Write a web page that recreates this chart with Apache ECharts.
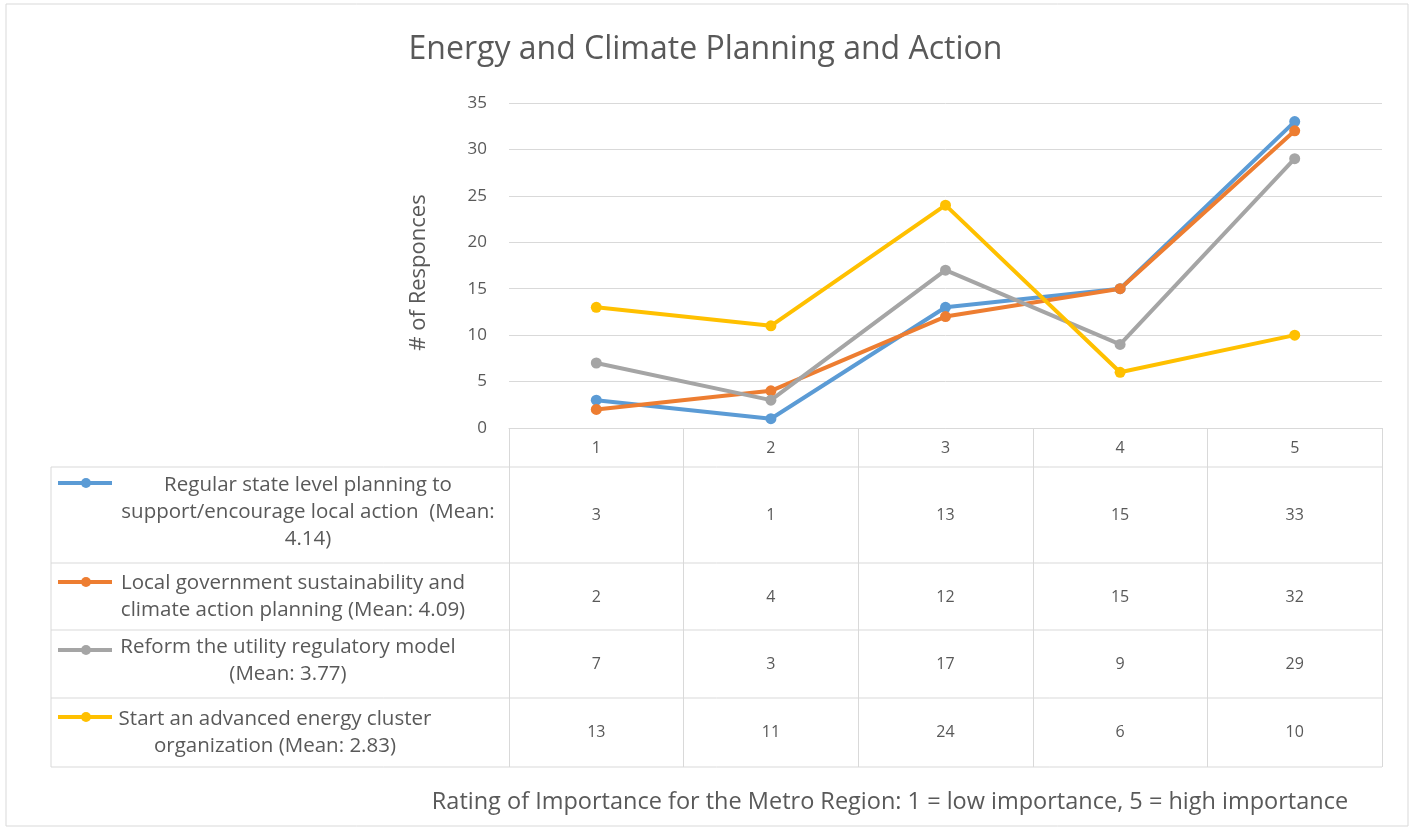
<!DOCTYPE html>
<html>
<head>
<meta charset="utf-8">
<script src="https://cdn.jsdelivr.net/npm/echarts@6/dist/echarts.min.js"></script>
<style>
html, body { margin: 0; padding: 0; background: #fff; }
#main { width: 1411px; height: 829px; }
</style>
</head>
<body>
<div id="main"></div>
<script>
// data
var ratings = ['1', '2', '3', '4', '5'];
var stateLevel = [3, 1, 13, 15, 33];
var localGov = [2, 4, 12, 15, 32];
var utilityReform = [7, 3, 17, 9, 29];
var energyCluster = [13, 11, 24, 6, 10];
var seriesLabels = [
  'Regular state level planning to\nsupport/encourage local action  (Mean:\n4.14)',
  'Local government sustainability and\nclimate action planning (Mean: 4.09)',
  'Reform the utility regulatory model\n(Mean: 3.77)',
  'Start an advanced energy cluster\norganization (Mean: 2.83)'
];
var yTicks = { min: 0, max: 35, interval: 5 };

var allSeries = [stateLevel, localGov, utilityReform, energyCluster];
var colors = ['#5B9BD5', '#ED7D31', '#A5A5A5', '#FFC000'];
var font = '"Open Sans", Lato, sans-serif';
var textColor = '#595959';
var lineColor = '#D9D9D9';

// table layout
var rowLines = [467, 563, 630, 698, 767];
var rowCenters = [515, 597, 664, 732];
var labelCenterX = [308, 293, 288, 275];
var labelFirstLine = [485, 583, 647, 719];
var iconY = [483, 582, 650, 717];

var myChart = echarts.init(document.getElementById('main'));

myChart.setOption({
  animation: false,
  color: colors,
  title: {
    text: 'Energy and Climate Planning and Action',
    left: 'center',
    top: 29,
    textStyle: { color: textColor, fontFamily: font, fontSize: 32, fontWeight: 'normal' }
  },
  grid: { left: 509, right: 29, top: 103, bottom: 401 },
  xAxis: {
    type: 'category',
    data: ratings,
    boundaryGap: true,
    axisLine: { lineStyle: { color: lineColor, width: 1 } },
    axisTick: { show: true, length: 339, lineStyle: { color: lineColor } },
    axisLabel: { color: textColor, fontFamily: font, fontSize: 16, margin: 12 }
  },
  yAxis: {
    type: 'value',
    min: yTicks.min,
    max: yTicks.max,
    interval: yTicks.interval,
    name: '# of Responces',
    nameLocation: 'middle',
    nameRotate: 90,
    nameGap: 79,
    nameTextStyle: { color: textColor, fontFamily: font, fontSize: 22, padding: [0, 14, 0, 0] },
    axisLine: { show: false },
    axisTick: { show: false },
    splitLine: { lineStyle: { color: lineColor, width: 1 } },
    axisLabel: { color: textColor, fontFamily: font, fontSize: 17, margin: 22 }
  },
  series: allSeries.map(function (vals, i) {
    return {
      name: seriesLabels[i],
      type: 'line',
      data: vals,
      symbol: 'circle',
      symbolSize: 11,
      lineStyle: { width: 4 },
      itemStyle: { color: colors[i] }
    };
  })
});

// data table below the plot, built from the same arrays
var graphics = [];
graphics.push({
  type: 'rect',
  shape: { x: 6, y: 4, width: 1402, height: 822 },
  style: { fill: 'none', stroke: lineColor, lineWidth: 1 },
  silent: true
});
rowLines.forEach(function (y) {
  graphics.push({
    type: 'line',
    shape: { x1: 51, y1: y, x2: 1382, y2: y },
    style: { stroke: lineColor, lineWidth: 1 },
    silent: true
  });
});
graphics.push({
  type: 'line',
  shape: { x1: 51, y1: rowLines[0], x2: 51, y2: rowLines[4] },
  style: { stroke: lineColor, lineWidth: 1 },
  silent: true
});
seriesLabels.forEach(function (label, i) {
  graphics.push({
    type: 'line',
    shape: { x1: 58, y1: iconY[i], x2: 112, y2: iconY[i] },
    style: { stroke: colors[i], lineWidth: 4 },
    silent: true
  });
  graphics.push({
    type: 'circle',
    shape: { cx: 86, cy: iconY[i], r: 5 },
    style: { fill: colors[i] },
    silent: true
  });
  graphics.push({
    type: 'text',
    style: {
      text: label,
      x: labelCenterX[i],
      y: labelFirstLine[i] - 13.5,
      align: 'center',
      verticalAlign: 'top',
      lineHeight: 27,
      fill: textColor,
      font: '20.5px ' + font
    },
    silent: true
  });
  allSeries[i].forEach(function (v, j) {
    var x = myChart.convertToPixel({ xAxisIndex: 0 }, ratings[j]);
    graphics.push({
      type: 'text',
      style: {
        text: String(v),
        x: x,
        y: rowCenters[i],
        align: 'center',
        verticalAlign: 'middle',
        fill: textColor,
        font: '16px ' + font
      },
      silent: true
    });
  });
});
graphics.push({
  type: 'text',
  style: {
    text: 'Rating of Importance for the Metro Region: 1 = low importance, 5 = high importance',
    x: 890,
    y: 802,
    align: 'center',
    verticalAlign: 'middle',
    fill: textColor,
    font: '23.5px ' + font
  },
  silent: true
});

myChart.setOption({ graphic: graphics });
</script>
</body>
</html>
